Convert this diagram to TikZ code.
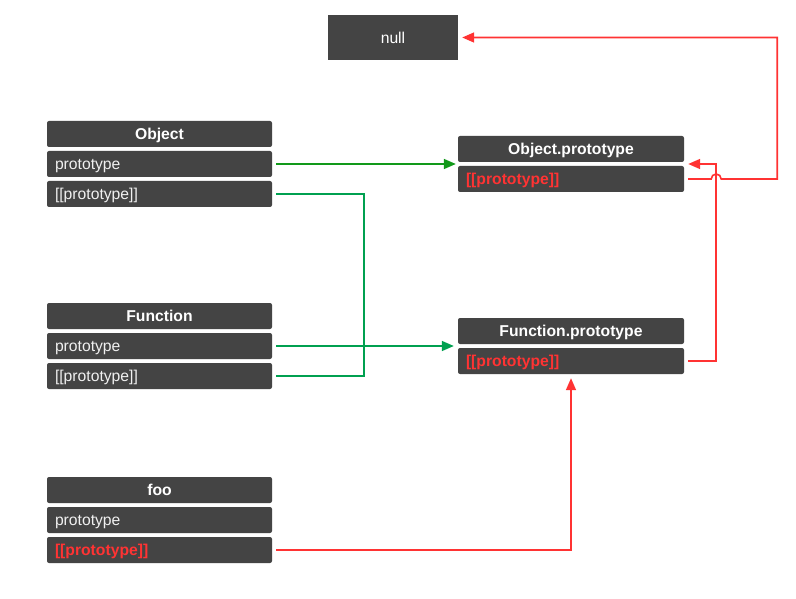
\documentclass[tikz,border=0pt]{standalone}
\usepackage{fontspec}
\setmainfont{Liberation Sans}
\usepackage{xcolor}
\usetikzlibrary{arrows.meta, positioning, calc}
\definecolor{boxgray}{HTML}{444444}
\definecolor{protored}{HTML}{FF3333}
\definecolor{objgreen}{HTML}{12991A}
\definecolor{fngreen}{HTML}{00A050}

\begin{document}
\begin{tikzpicture}[
    x=1pt, y=-1pt,
    header/.style={fill=boxgray, rounded corners=2pt, minimum width=225pt, minimum height=26pt, inner sep=0pt, text height=14.5pt, text depth=3pt, font=\fontsize{15.7}{18}\selectfont\bfseries, text=white},
    field/.style={fill=boxgray, rounded corners=2pt, text width=209pt, inner xsep=8pt, inner ysep=0pt, minimum height=26pt, text height=14.5pt, text depth=3.5pt, align=left, font=\fontsize{15.7}{18}\selectfont, text=white!94!black},
    redfield/.style={field, font=\fontsize{15.7}{18}\selectfont\bfseries, text=protored},
    arrow/.style={-{Triangle[length=12pt, width=10pt]}, line width=1.6pt},
    link/.style={line width=1.6pt},
]
    \useasboundingbox[fill=white] (0,0) rectangle (796,599);

    % null node
    \node[header, font=\fontsize{15.7}{18}\selectfont, minimum width=130pt, minimum height=45pt, rounded corners=0pt] (null) at (393,37.5) {null};

    % Object node
    \node[header] (obj) at (159.5,134) {Object};
    \node[field] (obj-proto) at (159.5,164) {prototype};
    \node[field] (obj-pp) at (159.5,194) {[[prototype]]};

    % Function node
    \node[header] (fn) at (159.5,316) {Function};
    \node[field] (fn-proto) at (159.5,346) {prototype};
    \node[field] (fn-pp) at (159.5,376) {[[prototype]]};

    % foo node
    \node[header] (foo) at (159.5,490) {foo};
    \node[field] (foo-proto) at (159.5,520) {prototype};
    \node[redfield] (foo-pp) at (159.5,550) {[[prototype]]};

    % Object.prototype node
    \node[header, minimum width=226pt] (op) at (571,149) {Object.prototype};
    \node[redfield, text width=210pt] (op-pp) at (571,179) {[[prototype]]};

    % Function.prototype node
    \node[header, minimum width=226pt] (fp) at (571,331) {Function.prototype};
    \node[redfield, text width=210pt] (fp-pp) at (571,361) {[[prototype]]};

    \coordinate (op-west) at ($(op.south west)!0.5!(op-pp.north west)$);
    \coordinate (op-east) at ($(op.south east)!0.5!(op-pp.north east)$);
    \coordinate (fp-west) at ($(fp.south west)!0.5!(fp-pp.north west)$);
    \coordinate (bend) at ([xshift=32pt]fp-pp.east);

    % Green links
    \draw[arrow, objgreen, shorten <=4pt, shorten >=2pt] (obj-proto.east) -- (op-west);
    \draw[arrow, fngreen, shorten <=4pt, shorten >=4pt] (fn-proto.east) -- (fp-west);
    \draw[link, fngreen, shorten <=4pt, shorten >=4pt] (obj-pp.east) -- ++(92,0) |- (fn-pp.east);

    % Red links
    \draw[arrow, protored, shorten <=4pt, shorten >=4pt] (foo-pp.east) -| (fp-pp.south);
    \draw[arrow, protored, shorten <=4pt, shorten >=4pt] (fp-pp.east) -| (bend) |- (op-east);
    \draw[arrow, protored, shorten <=4pt, shorten >=4pt] (op-pp.east) -- ([xshift=-5pt]bend |- op-pp.east)
        arc[start angle=180, end angle=0, radius=5pt] -- ++(56,0) |- (null.east);

\end{tikzpicture}
\end{document}
